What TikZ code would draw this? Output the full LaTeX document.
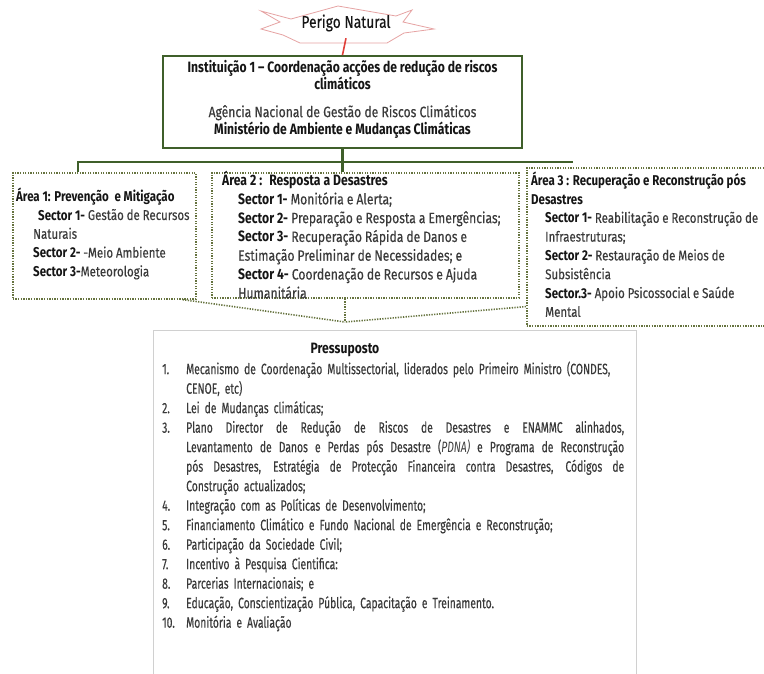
\documentclass[tikz,border=0pt]{standalone}
\usepackage{fontspec}
\setmainfont{Fira Sans}[FakeStretch=0.69,UprightFeatures={FakeBold=0.3}]
\newfontfamily\widefont{Fira Sans}[FakeStretch=0.81,UprightFeatures={FakeBold=0.3}]
\usetikzlibrary{calc}
\definecolor{instgreen}{HTML}{3F5F2A}
\definecolor{dotgreen}{HTML}{66733F}
\definecolor{txt}{HTML}{3A3A3A}
\definecolor{hd}{HTML}{151515}
\definecolor{hazedge}{HTML}{E6A3A3}
\definecolor{hazline}{HTML}{E0403A}
\definecolor{framegray}{HTML}{D0D0D0}
% bold heading fragment
\newcommand\hb[1]{{\bfseries\color{hd}#1}}
% numbered list helpers
\newcommand\pn[1]{\makebox[24pt][l]{#1}}
\newcommand\pj[1]{{\spaceskip=0.17em plus 1fil\relax\hbox to 438pt{#1}}}
\newcommand\topstrut{\rule{0pt}{14pt}}
\newcommand\tightspace[1]{\spaceskip=#1 plus 0.05em minus 0.03em\relax}
\begin{document}
\begin{tikzpicture}[x=1pt,y=-1pt,
  instbox/.style={draw=instgreen,line width=2pt,fill=white,inner sep=0pt},
  bus/.style={draw=instgreen,line width=2.4pt},
  areabox/.style={draw=dotgreen,line width=1.6pt,dash pattern=on 1.3pt off 1.3pt,inner sep=0pt},
  funnel/.style={draw=dotgreen,line width=1.6pt,dash pattern=on 1.3pt off 1.3pt},
  areatext/.style={anchor=north west,inner sep=0pt,align=left,text=txt,
    font=\widefont\fontsize{15}{18.8}\selectfont\tightspace{0.2em}},
  areatextsm/.style={areatext,font=\widefont\fontsize{14.2}{18.8}\selectfont\tightspace{0.2em}},
  listframe/.style={draw=framegray,line width=0.8pt,inner sep=0pt},
]
\useasboundingbox (0,0) rectangle (764,673);

% hazard burst
\draw[hazedge,line width=0.8pt,fill=white]
  (261,11) -- (291,19) -- (338,6) -- (396,16) -- (412,10) -- (403,22)
  -- (434,29) -- (404,33) -- (387,43) -- (300,43) -- (283,35) -- (261,29)
  -- (280,22) -- cycle;
\node[inner sep=0pt,minimum height=30pt,text=hd,
  font=\widefont\fontsize{17}{18}\selectfont] (hazard) at (346,23) {Perigo Natural};

% coordinating institution
\node[instbox,minimum width=359pt,minimum height=92pt,anchor=north west] (inst) at (162,55) {};
\node[align=center,text=hd,inner sep=0pt,
  font=\widefont\fontsize{15}{17}\selectfont] (insttext)
  at ($(inst.center)+(0,-3)$)
  {\bfseries Instituição 1 – Coordenação acções de redução de riscos\\
   \bfseries climáticos\\[11pt]
   {\color{txt}Agência Nacional de Gestão de Riscos Climáticos}\\
   \bfseries Ministério de Ambiente e Mudanças Climáticas};
\draw[hazline,line width=1.6pt] (hazard.south) -- (inst.north);

% intervention areas
\node[areabox,minimum width=183pt,minimum height=126pt,anchor=north west] (area1) at (12,172) {};
\node[areabox,minimum width=307pt,minimum height=125pt,anchor=north west] (area2) at (211,172) {};
\node[areabox,minimum width=245pt,minimum height=158pt,anchor=north west] (area3) at (526,167) {};

\node[areatextsm] (t1) at (16,187)
  {\topstrut\hb{Área 1: Prevenção \ e Mitigação}\\
   \hspace*{22pt}\hb{Sector 1-} Gestão de Recursos\\
   \hspace*{17pt}Naturais\\
   \hspace*{17pt}\hb{Sector 2-} -Meio Ambiente\\
   \hspace*{17pt}\hb{Sector 3-}Meteorologia};
\node[areatext] (t2) at (222,171)
  {\topstrut\hb{Área 2 : \ Resposta a Desastres}\\
   \hspace*{16pt}\hb{Sector 1-} Monitória e Alerta;\\
   \hspace*{16pt}\hb{Sector 2-} Preparação e Resposta a Emergências;\\
   \hspace*{16pt}\hb{Sector 3-} Recuperação Rápida de Danos e\\
   \hspace*{16pt}Estimação Preliminar de Necessidades; e\\
   \hspace*{16pt}\hb{Sector 4-} Coordenação de Recursos e Ajuda\\
   \hspace*{16pt}Humanitária};
\node[areatextsm] (t3) at (531,171)
  {\topstrut\hb{Área 3 : Recuperação e Reconstrução pós}\\
   \hb{Desastres}\\
   \hspace*{14pt}\hb{Sector 1-} Reabilitação e Reconstrução de\\
   \hspace*{14pt}Infraestruturas;\\
   \hspace*{14pt}\hb{Sector 2-} Restauração de Meios de\\
   \hspace*{14pt}Subsistência\\
   \hspace*{14pt}\hb{Sector.3-} Apoio Psicossocial e Saúde\\
   \hspace*{14pt}Mental};

% green distribution bus
\coordinate (a1drop) at (78,172);
\coordinate (a3drop) at (573,162);
\draw[bus] (a1drop) |- (a3drop);
\draw[bus] (inst.south) -- (inst.south |- area2.north);

% funnel into the assumptions
\coordinate (tip) at (345,322);
\draw[funnel] ([xshift=-14pt]area1.south east) -- (tip);
\draw[funnel] (area2.south -| tip) -- (tip);
\draw[funnel] ([yshift=20pt]area3.south west) -- (tip);

% assumptions list
\node[listframe,minimum width=483pt,minimum height=360pt,anchor=north west] (plist) at (153,330) {};
\node[text=hd,inner sep=0pt,font=\widefont\fontsize{15}{16}\selectfont\bfseries] (ptitle) at (345,350) {Pressuposto};
\node[anchor=north west,inner sep=0pt,text width=470pt,align=left,text=txt,
  font=\fontsize{15}{19.5}\selectfont\tightspace{0.17em}] (pbody) at (162,360)
  {\topstrut\pn{1.}Mecanismo de Coordenação Multissectorial, liderados pelo Primeiro Ministro (CONDES,\\
   \pn{}CENOE, etc)\\
   \pn{2.}Lei de Mudanças climáticas;\\
   \pn{3.}\pj{Plano Director de Redução de Riscos de Desastres e ENAMMC alinhados,}\\
   \pn{}\pj{Levantamento de Danos e Perdas pós Desastre (\textit{PDNA)} e Programa de Reconstrução}\\
   \pn{}\pj{pós Desastres, Estratégia de Protecção Financeira contra Desastres, Códigos de}\\
   \pn{}Construção actualizados;\\
   \pn{4.}Integração com as Políticas de Desenvolvimento;\\
   \pn{5.}Financiamento Climático e Fundo Nacional de Emergência e Reconstrução;\\
   \pn{6.}Participação da Sociedade Civil;\\
   \pn{7.}Incentivo à Pesquisa Cientifica:\\
   \pn{8.}Parcerias Internacionais; e\\
   \pn{9.}Educação, Conscientização Pública, Capacitação e Treinamento.\\
   \pn{10.}Monitória e Avaliação};
\end{tikzpicture}
\end{document}
